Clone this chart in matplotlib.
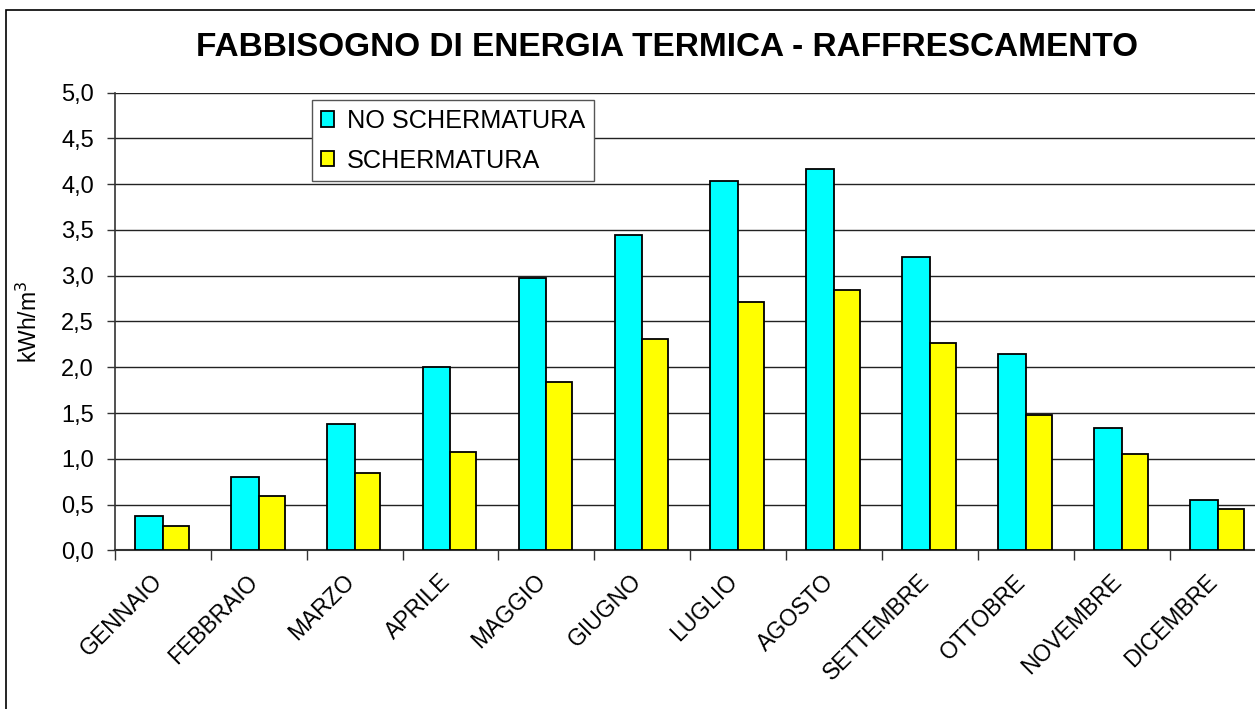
import matplotlib
matplotlib.use("Agg")
import matplotlib.pyplot as plt
import matplotlib.transforms as mtransforms
import numpy as np
from matplotlib.patches import Rectangle

months = ["GENNAIO", "FEBBRAIO", "MARZO", "APRILE", "MAGGIO", "GIUGNO",
          "LUGLIO", "AGOSTO", "SETTEMBRE", "OTTOBRE", "NOVEMBRE", "DICEMBRE"]
no_schermatura = [0.38, 0.80, 1.38, 2.00, 2.98, 3.44, 4.04, 4.17, 3.21, 2.15, 1.34, 0.55]
schermatura = [0.27, 0.59, 0.84, 1.07, 1.84, 2.31, 2.71, 2.84, 2.27, 1.48, 1.05, 0.45]
yticks = [0.0, 0.5, 1.0, 1.5, 2.0, 2.5, 3.0, 3.5, 4.0, 4.5, 5.0]
ytick_labels = ["0,0", "0,5", "1,0", "1,5", "2,0", "2,5", "3,0", "3,5", "4,0", "4,5", "5,0"]

plt.rcParams['font.family'] = ['Liberation Sans', 'DejaVu Sans']

W, H = 1255, 709
fig = plt.figure(figsize=(W / 100, H / 100), dpi=100)

left, right, bottom, top = 114.7, 1266.0, 550.3, 92.7
ax = fig.add_axes([left / W, 1 - bottom / H, (right - left) / W, (bottom - top) / H])

x = np.arange(len(months)) + 0.5
bw = 0.29
ax.bar(x - bw / 2, no_schermatura, bw, color="#00FFFF", edgecolor="black", linewidth=1.3,
       label="NO SCHERMATURA", zorder=3)
ax.bar(x + bw / 2 - 0.01, schermatura, bw - 0.02, color="#FFFF00", edgecolor="black", linewidth=1.3,
       label="SCHERMATURA", zorder=3)

ax.set_xlim(0, len(months))
ax.set_ylim(0, 5.0)
ax.set_yticks(yticks)
ax.set_yticklabels(ytick_labels, fontsize=17)
ax.yaxis.grid(True, color="#222222", linewidth=1.0, zorder=0)
ax.set_axisbelow(True)

ax.set_xticks(np.arange(len(months) + 1))
ax.set_xticklabels([])
ax.set_xticks(x, minor=True)
ax.set_xticklabels(months, minor=True, rotation=45, ha="right", va="center",
                   rotation_mode="anchor", fontsize=16.5)
ax.tick_params(axis="x", which="minor", length=0, pad=20)
ax.tick_params(axis="x", which="major", length=7, width=1, color="#333333")
ax.tick_params(axis="y", length=6, width=1, color="#333333", pad=9)
shift = mtransforms.ScaledTranslation(-4 / 100, 0, fig.dpi_scale_trans)
for lab in ax.get_xticklabels(minor=True):
    lab.set_transform(lab.get_transform() + shift)

for s in ["top", "right"]:
    ax.spines[s].set_visible(False)
ax.spines["left"].set_color("#333333")
ax.spines["bottom"].set_color("#333333")
ax.spines["left"].set_linewidth(1.2)
ax.spines["bottom"].set_linewidth(1.5)

fig.text(29 / W, 1 - 322 / H, "kWh/m$^3$", rotation=90, ha="center", va="center", fontsize=16.5)

fig.text(667 / W, 1 - 48 / H, "FABBISOGNO DI ENERGIA TERMICA - RAFFRESCAMENTO",
         ha="center", va="center", fontsize=24, fontweight="bold")

leg = fig.legend(loc="upper left", bbox_to_anchor=(311.7 / W, 1 - 100 / H),
                 fontsize=18.2, frameon=True, fancybox=False, framealpha=1,
                 edgecolor="#555555", borderpad=0.35, labelspacing=0.62,
                 handlelength=0.55, handleheight=0.55, handletextpad=0.5,
                 borderaxespad=0)
leg.get_frame().set_linewidth(1.0)

fig.patches.append(Rectangle((6 / W, -0.05), 1.2, 1 - 10 / H + 0.05, transform=fig.transFigure,
                             fill=False, edgecolor="black", linewidth=1.2))

fig.savefig("out.png", dpi=100)
